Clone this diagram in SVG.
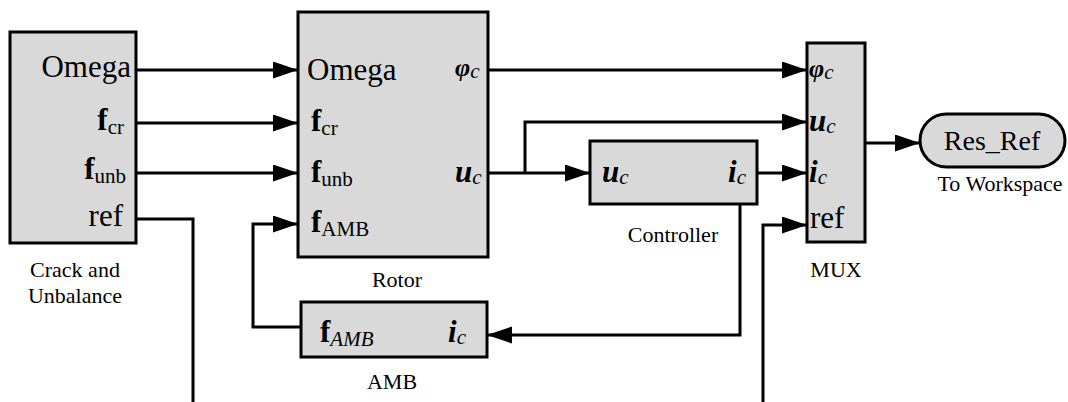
<svg xmlns="http://www.w3.org/2000/svg" width="1068" height="402" viewBox="0 0 1068 402">
<style>
.blk{fill:#d9d9d9;stroke:#000;stroke-width:3}
.w{fill:none;stroke:#000;stroke-width:3}
.big{font-size:31px}
.lbl{font-size:22px;text-anchor:middle}
.b{font-weight:bold}
.bi{font-weight:bold;font-style:italic}
.sub{font-size:21px}
.subi{font-size:21px;font-style:italic}
</style>
<defs>
<marker id="ah" markerUnits="userSpaceOnUse" markerWidth="26" markerHeight="18" refX="25" refY="8.5" orient="auto">
<path d="M0,0 L25,8.5 L0,17 z" fill="#000"/>
</marker>
</defs>
<rect width="1068" height="402" fill="#fff"/>
<g id="connectors" class="w">
<path d="M136,70 H298" marker-end="url(#ah)"/>
<path d="M136,123 H298" marker-end="url(#ah)"/>
<path d="M136,173 H298" marker-end="url(#ah)"/>
<path d="M136,219 H193 V402"/>
<path d="M763,402 V225 H807" marker-end="url(#ah)"/>
<path d="M488,70 H807" marker-end="url(#ah)"/>
<path d="M488,173 H590" marker-end="url(#ah)"/>
<path d="M525,173 V122 H807" marker-end="url(#ah)"/>
<path d="M757,173 H807" marker-end="url(#ah)"/>
<path d="M740,204 V335 H487" marker-end="url(#ah)"/>
<path d="M301,327 H253 V224 H298" marker-end="url(#ah)"/>
<path d="M865,143 H920" marker-end="url(#ah)"/>
</g>
<g id="crack">
<rect class="blk" x="10" y="32" width="126" height="211"/>
<text font-family="Liberation Serif" class="big" x="131" y="77" text-anchor="end">Omega</text>
<text font-family="Liberation Serif" class="big" x="124" y="130" text-anchor="end"><tspan class="b">f</tspan><tspan class="sub" dy="4">cr</tspan></text>
<text font-family="Liberation Serif" class="big" x="126" y="179" text-anchor="end"><tspan class="b">f</tspan><tspan class="sub" dy="4">unb</tspan></text>
<text font-family="Liberation Serif" class="big" x="123" y="226" text-anchor="end" font-size="33">ref</text>
<text font-family="Liberation Serif" class="lbl" x="75" y="277">Crack and</text>
<text font-family="Liberation Serif" class="lbl" x="75" y="303">Unbalance</text>
</g>
<g id="rotor">
<rect class="blk" x="298" y="12" width="190" height="245"/>
<text font-family="Liberation Serif" class="big" x="307" y="80">Omega</text>
<text font-family="Liberation Serif" class="big" x="311" y="131"><tspan class="b">f</tspan><tspan class="sub" dy="4">cr</tspan></text>
<text font-family="Liberation Serif" class="big" x="311" y="182"><tspan class="b">f</tspan><tspan class="sub" dy="4">unb</tspan></text>
<text font-family="Liberation Serif" class="big" x="311" y="232"><tspan class="b">f</tspan><tspan class="sub" dy="4">AMB</tspan></text>
<text font-family="Liberation Serif" class="big" x="455" y="76"><tspan class="bi" font-size="26">φ</tspan><tspan class="subi" dy="2">c</tspan></text>
<text font-family="Liberation Serif" class="big" x="455" y="182"><tspan class="bi">u</tspan><tspan class="subi" dy="2">c</tspan></text>
<text font-family="Liberation Serif" class="lbl" x="397" y="287">Rotor</text>
</g>
<g id="controller">
<rect class="blk" x="590" y="141" width="167" height="63"/>
<text font-family="Liberation Serif" class="big" x="602" y="182"><tspan class="bi">u</tspan><tspan class="subi" dy="2">c</tspan></text>
<text font-family="Liberation Serif" class="big" x="728" y="182"><tspan class="bi">i</tspan><tspan class="subi" dy="2">c</tspan></text>
<text font-family="Liberation Serif" class="lbl" x="673" y="242">Controller</text>
</g>
<g id="amb">
<rect class="blk" x="301" y="302" width="186" height="55"/>
<text font-family="Liberation Serif" class="big" x="320" y="342"><tspan class="b">f</tspan><tspan class="subi" dy="4">AMB</tspan></text>
<text font-family="Liberation Serif" class="big" x="448" y="342"><tspan class="bi">i</tspan><tspan class="subi" dy="2">c</tspan></text>
<text font-family="Liberation Serif" class="lbl" x="392" y="389">AMB</text>
</g>
<g id="mux">
<rect class="blk" x="807" y="43" width="58" height="199"/>
<text font-family="Liberation Serif" class="big" x="809" y="77"><tspan class="bi" font-size="26">φ</tspan><tspan class="subi" dy="2">c</tspan></text>
<text font-family="Liberation Serif" class="big" x="809" y="131"><tspan class="bi">u</tspan><tspan class="subi" dy="2">c</tspan></text>
<text font-family="Liberation Serif" class="big" x="809" y="182"><tspan class="bi">i</tspan><tspan class="subi" dy="2">c</tspan></text>
<text font-family="Liberation Serif" class="big" x="810" y="228" font-size="33">ref</text>
<text font-family="Liberation Serif" class="lbl" x="836" y="277">MUX</text>
</g>
<g id="workspace">
<rect class="blk" x="920" y="114" width="145" height="53" rx="26.5"/>
<text font-family="Liberation Serif" x="992" y="150" font-size="28" text-anchor="middle">Res_Ref</text>
<text font-family="Liberation Serif" class="lbl" x="1000" y="191">To Workspace</text>
</g>
</svg>
